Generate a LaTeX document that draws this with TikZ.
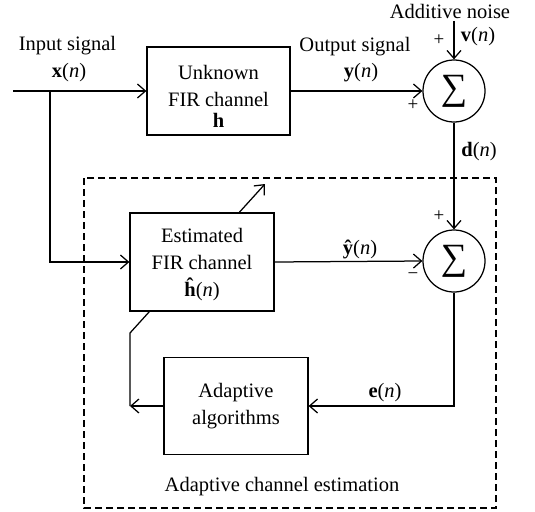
\documentclass[tikz,border=0pt]{standalone}
\usepackage{fontspec}
\setmainfont{Liberation Serif}
\usetikzlibrary{arrows.meta}
\begin{document}
\begin{tikzpicture}[x=1pt,y=-1pt, line width=1.25pt,
  txt/.style={font=\fontsize{20.5}{27}\selectfont, align=center, inner sep=0pt},
  small/.style={font=\fontsize{19}{19}\selectfont, inner sep=0pt},
  box/.style={draw, fill=white, inner sep=0pt},
  sumnode/.style={draw, circle, fill=white, minimum size=62pt, inner sep=0pt, font=\fontsize{37}{37}\selectfont},
  arr/.style={-{Straight Barb[length=8pt,width=14pt]}}]
\useasboundingbox (0,0) rectangle (535,511);
% dashed region
\draw[line width=1.1pt, dash pattern=on 7pt off 4pt] (84,178) rectangle (496,508);
\node[txt] (lblest) at (282,487) {Adaptive channel estimation};
% adaptation arrow (behind estimated box)
\coordinate (fb) at (130,406);
\coordinate (kink) at (130,333);
\coordinate (tip) at (265,184);
\draw[arr] (fb) -- (kink) -- (tip);
% blocks
\node[box, minimum width=143pt, minimum height=88pt] (unk) at (218.5,91) {};
\node[txt] (unkt) at (218.5,96) {Unknown\\FIR channel\\[-6pt]\textbf{h}};
\node[box, minimum width=144pt, minimum height=98pt] (est) at (202,262) {};
\node[txt] (estt) at (202,265) {Estimated\\FIR channel\\\textbf{ĥ}(\textit{n})};
\node[box, minimum width=144pt, minimum height=97pt] (ada) at (236,406) {};
\node[txt] (adat) at (236,406) {Adaptive\\algorithms};
\node[sumnode] (s1) at (454,91) {∑};
\node[sumnode] (s2) at (454,261) {∑};
% input
\coordinate (in) at (13,91);
\coordinate (br) at (50,91);
\draw[arr] (in) -- (unk.west);
\draw[arr] (br) |- (est.west);
\node[txt] (inl) at (67.5,46) {Input signal};
\node[txt] (xl) at (69,73) {\textbf{x}(\textit{n})};
% output
\draw[arr] (unk.east) -- (s1.west);
\node[txt] (outl) at (355,47) {Output signal};
\node[txt] (yl) at (361,73) {\textbf{y}(\textit{n})};
\node[small] (p1) at (413,105) {+};
% noise
\coordinate (noise) at (454,21);
\draw[arr] (noise) -- (s1.north);
\node[txt] (noisel) at (450,11) {Additive noise};
\node[txt] (vl) at (478,37) {\textbf{v}(\textit{n})};
\node[small] (p2) at (439,40) {+};
% d(n)
\draw[arr] (s1.south) -- (s2.north);
\node[txt] (dl) at (479,152) {\textbf{d}(\textit{n})};
\node[small] (p3) at (439,216) {+};
% estimate
\draw[arr] (est.east) -- (s2.west);
\node[txt] (yhl) at (360,249) {\textbf{ŷ}(\textit{n})};
\node[small] (m1) at (413,276) {−};
% error
\draw[arr] (s2.south) |- (ada.east);
\node[txt] (el) at (385,393) {\textbf{e}(\textit{n})};
\draw[arr] (ada.west) -- (fb);
\end{tikzpicture}
\end{document}
